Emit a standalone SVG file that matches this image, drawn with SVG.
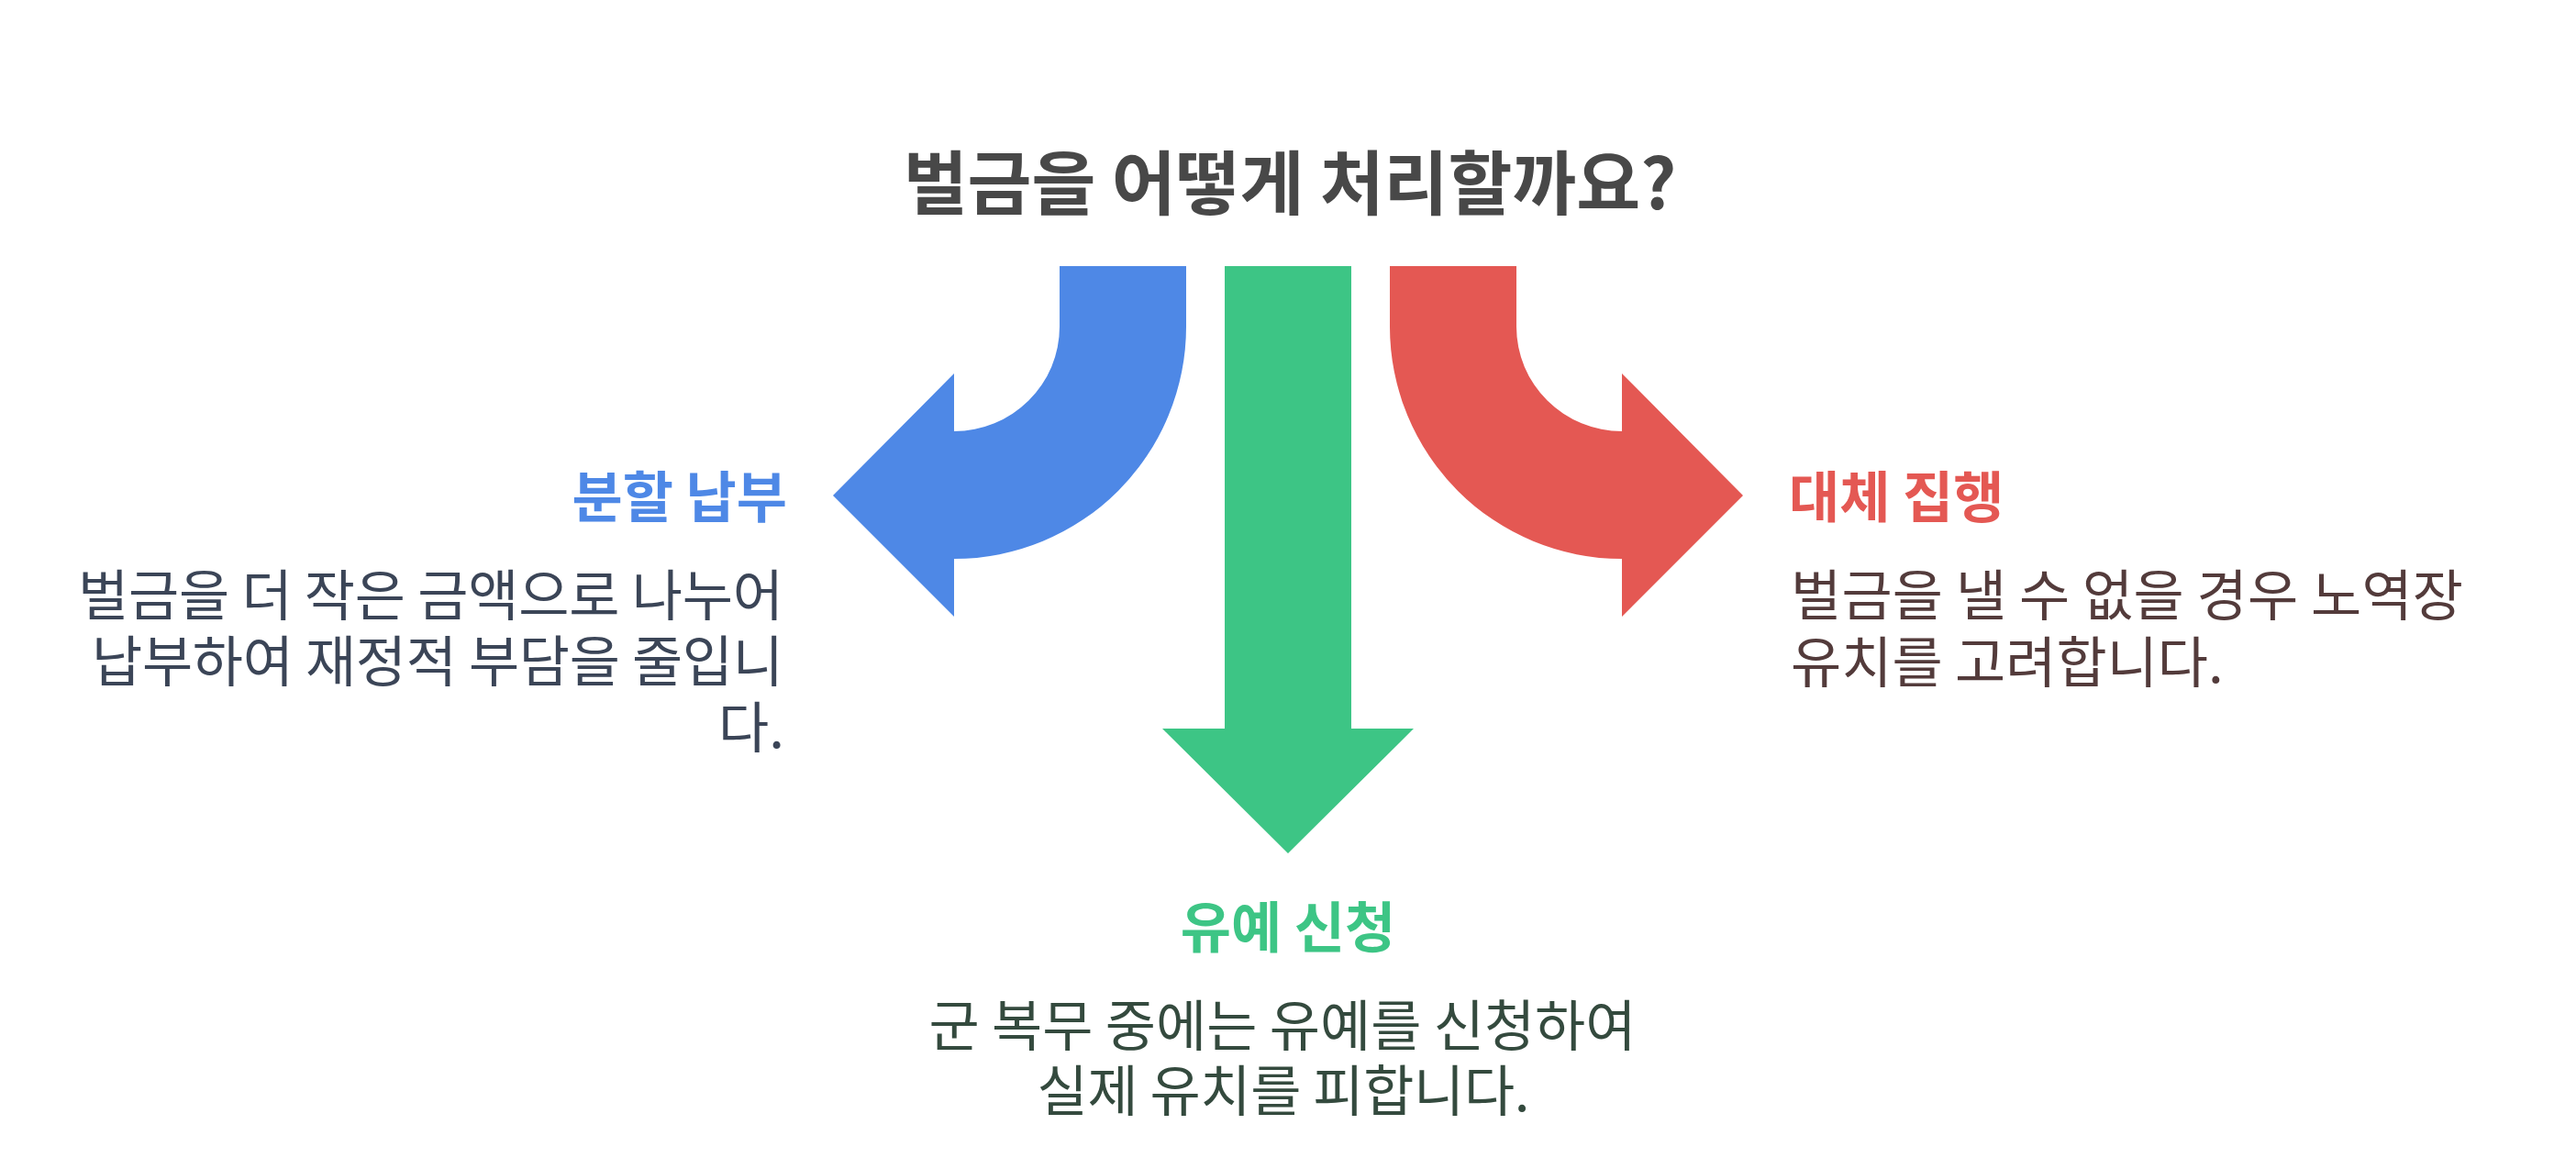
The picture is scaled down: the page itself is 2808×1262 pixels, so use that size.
<svg xmlns="http://www.w3.org/2000/svg" width="2808" height="1262" viewBox="0 0 2808 1262">
<style>
text{font-family:"Noto Sans CJK KR","Noto Sans",sans-serif;}
.title{font-size:76px;font-weight:700;fill:#484848;}
.head{font-size:60px;font-weight:700;}
.body{font-size:60px;font-weight:400;}
</style>
<rect width="2808" height="1262" fill="#ffffff"/>
<g id="connectors">
<path id="arrow-left" fill="#4E88E6" d="M 1155 290 L 1293 290 L 1293 356 A 253 253 0 0 1 1040 609 L 1040 672 L 908 540 L 1040 407 L 1040 470 A 115 114 0 0 0 1155 356 Z"/>
<path id="arrow-down" fill="#3DC585" d="M 1335 290 L 1473 290 L 1473 794 L 1541 794 L 1404 930 L 1267 794 L 1335 794 Z"/>
<path id="arrow-right" fill="#E45853" d="M 1653 290 L 1515 290 L 1515 356 A 253 253 0 0 0 1768 609 L 1768 672 L 1900 540 L 1768 407 L 1768 470 A 115 114 0 0 1 1653 356 Z"/>
</g>
<g id="title">
<text class="title" x="1406" y="228" text-anchor="middle">벌금을 어떻게 처리할까요?</text>
</g>
<g id="node-installment">
<text class="head" x="858" y="564" text-anchor="end" fill="#4E88E6">분할 납부</text>
<text class="body" text-anchor="end" fill="#3B4557"><tspan x="854" y="671" textLength="769" lengthAdjust="spacing">벌금을 더 작은 금액으로 나누어</tspan><tspan x="854" y="743" textLength="754" lengthAdjust="spacing">납부하여 재정적 부담을 줄입니</tspan><tspan x="855" y="815">다.</tspan></text>
</g>
<g id="node-substitute">
<text class="head" x="1950" y="564" fill="#E45853">대체 집행</text>
<text class="body" fill="#533B3B"><tspan x="1952" y="671" textLength="733" lengthAdjust="spacing">벌금을 낼 수 없을 경우 노역장</tspan><tspan x="1952" y="744">유치를 고려합니다.</tspan></text>
</g>
<g id="node-deferral">
<text class="head" x="1404" y="1033" text-anchor="middle" fill="#3DC585">유예 신청</text>
<text class="body" text-anchor="middle" fill="#344A3E"><tspan x="1398" y="1140" textLength="771" lengthAdjust="spacing">군 복무 중에는 유예를 신청하여</tspan><tspan x="1399" y="1211" textLength="537" lengthAdjust="spacing">실제 유치를 피합니다.</tspan></text>
</g>
</svg>
